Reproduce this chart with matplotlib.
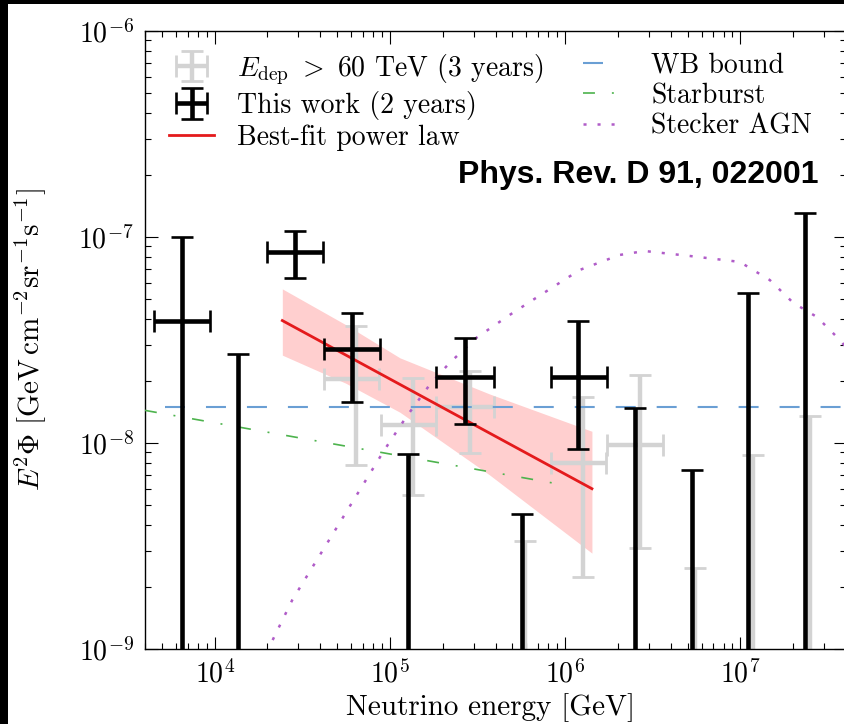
import numpy as np
import matplotlib
matplotlib.use("Agg")
import matplotlib.pyplot as plt
from matplotlib.patches import Rectangle
from matplotlib.legend_handler import HandlerErrorbar

plt.rcParams["font.family"] = "serif"
plt.rcParams["font.serif"] = ["cmr10", "DejaVu Serif"]
plt.rcParams["mathtext.fontset"] = "cm"
plt.rcParams["axes.formatter.use_mathtext"] = True
plt.rcParams["lines.scale_dashes"] = False

# black points: this work (2 years)
bk_x = [6.50e3, 2.86e4, 6.04e4, 2.69e5, 1.19e6]
bk_xlo = [4.50e3, 1.98e4, 4.18e4, 1.83e5, 8.24e5]
bk_xhi = [9.40e3, 4.16e4, 8.77e4, 3.91e5, 1.73e6]
bk_y = [3.9e-8, 8.5e-8, 2.85e-8, 2.1e-8, 2.1e-8]
bk_ylo = [1e-10, 6.3e-8, 1.58e-8, 1.24e-8, 9.4e-9]
bk_yhi = [1.0e-7, 1.07e-7, 4.3e-8, 3.25e-8, 3.93e-8]
# black upper limits
bk_ul_x = [1.36e4, 1.27e5, 5.67e5, 2.49e6, 5.27e6, 1.10e7, 2.33e7]
bk_ul = [2.7e-8, 8.8e-9, 4.5e-9, 1.48e-8, 7.4e-9, 5.35e-8, 1.31e-7]

# grey points: E_dep > 60 TeV (3 years)
gr_x = [6.4e4, 1.36e5, 2.88e5, 1.27e6, 2.66e6]
gr_xlo = [4.18e4, 8.9e4, 1.83e5, 8.24e5, 1.73e6]
gr_xhi = [8.7e4, 1.83e5, 3.91e5, 1.71e6, 3.61e6]
gr_y = [2.04e-8, 1.22e-8, 1.5e-8, 7.96e-9, 9.8e-9]
gr_ylo = [7.8e-9, 5.6e-9, 8.9e-9, 2.23e-9, 3.1e-9]
gr_yhi = [3.7e-8, 2.06e-8, 2.24e-8, 1.68e-8, 2.14e-8]
gr_ul_x = [5.93e5, 5.48e6, 1.18e7, 2.49e7]
gr_ul = [3.36e-9, 2.46e-9, 8.75e-9, 1.35e-8]

# best-fit power law and band
fit_x = [2.43e4, 1.42e6]
fit_y = [3.93e-8, 6.0e-9]
band_x = [2.43e4, 5.6e4, 1.14e5, 3.7e5, 1.42e6]
band_hi = [5.6e-8, 3.75e-8, 2.59e-8, 1.73e-8, 1.14e-8]
band_lo = [2.67e-8, 1.95e-8, 1.41e-8, 7.0e-9, 2.92e-9]

# models
wb_x = [5.2e3, 5e7]
wb_y = [1.5e-8, 1.5e-8]
sb_x = [4e3, 8.45e5]
sb_y = [1.44e-8, 6.4e-9]
st_x = [1.78e4, 2.02e4, 2.77e4, 9.29e4, 1.24e5, 1.68e5, 2.18e5, 3.11e5, 4.81e5,
        6.25e5, 1.21e6, 2.04e6, 2.84e6, 5.13e6, 9.91e6, 1.47e7, 2.0e7, 2.73e7,
        3.55e7, 4.47e7]
st_y = [7.1e-10, 1.0e-9, 1.73e-9, 9.25e-9, 1.34e-8, 1.91e-8, 2.44e-8, 3.24e-8,
        4.18e-8, 4.83e-8, 6.92e-8, 8.18e-8, 8.55e-8, 8.09e-8, 7.57e-8, 6.18e-8,
        4.79e-8, 4.09e-8, 3.27e-8, 2.63e-8]

fig = plt.figure(figsize=(8.44, 7.24), dpi=100)
ax = fig.add_axes([145 / 844, 75 / 724, 701 / 844, 618 / 724])
ax.set_xscale("log")
ax.set_yscale("log")
ax.set_xlim(4e3, 4e7)
ax.set_ylim(1e-9, 1e-6)

grey = "#d3d3d3"
ax.fill_between(band_x, band_lo, band_hi, color="#ffcfcf", lw=0, zorder=1)

gx = np.array(gr_x)
gy = np.array(gr_y)
eb_grey = ax.errorbar(gx, gy, xerr=[gx - gr_xlo, np.array(gr_xhi) - gx],
                      yerr=[gy - gr_ylo, np.array(gr_yhi) - gy], fmt="none",
                      ecolor=grey, elinewidth=3.2, capsize=8, capthick=2, zorder=2)
gux = np.array(gr_ul_x)
ax.errorbar(gux, np.full(len(gux), 1e-10), yerr=[np.zeros(len(gux)), np.array(gr_ul) - 1e-10],
            fmt="none", ecolor=grey, elinewidth=3.2, capsize=8, capthick=2, zorder=2)

wb, = ax.plot(wb_x, wb_y, color="#6a9fd4", lw=1.5, ls=(0, (14.4, 15.1)), zorder=3)
sb, = ax.plot(sb_x, sb_y, color="#4db34d", lw=1.2, ls=(0, (8.6, 12.2, 1.4, 12.2)), zorder=3)
st, = ax.plot(st_x, st_y, color="#b05cc8", lw=1.8, ls=(0, (2.2, 7.9)), zorder=3)
fit, = ax.plot(fit_x, fit_y, color="#e41a1c", lw=2.0, zorder=3.5)

bx = np.array(bk_x)
by = np.array(bk_y)
eb_black = ax.errorbar(bx, by, xerr=[bx - bk_xlo, np.array(bk_xhi) - bx],
                       yerr=[by - bk_ylo, np.array(bk_yhi) - by], fmt="none",
                       ecolor="k", elinewidth=3.3, capsize=8, capthick=1.9, zorder=4)
bux = np.array(bk_ul_x)
ax.errorbar(bux, np.full(len(bux), 1e-10), yerr=[np.zeros(len(bux)), np.array(bk_ul) - 1e-10],
            fmt="none", ecolor="k", elinewidth=3.3, capsize=8, capthick=1.9, zorder=4)

ax.tick_params(which="both", direction="in", top=True, right=True, labelsize=20)
ax.tick_params(which="major", length=9, width=0.8, pad=8)
ax.tick_params(which="minor", length=4.5, width=0.8)
for s in ax.spines.values():
    s.set_linewidth(1.0)

ax.set_xlabel("Neutrino energy [GeV]", fontsize=21)
ax.set_ylabel(r"$E^2\Phi\ [\mathrm{GeV\,cm^{-2}sr^{-1}s^{-1}}]$", fontsize=21)
ax.xaxis.set_label_coords((490 - 145) / 701, -(693 - 649) / 618)
ax.yaxis.set_label_coords((49 - 145) / 701, 0.5)

hm = {eb_grey: HandlerErrorbar(xerr_size=0.55), eb_black: HandlerErrorbar(xerr_size=0.55)}
leg1 = fig.legend([eb_grey, eb_black, fit],
                  [r"$E_{\rm dep}\ >\ 60$ TeV (3 years)", "This work (2 years)", "Best-fit power law"],
                  loc="upper left", bbox_to_anchor=(169 / 844, 1 - 52 / 724), frameon=False,
                  fontsize=20, handlelength=1.62, handletextpad=0.83, labelspacing=0.16,
                  borderpad=0, borderaxespad=0, handler_map=hm)
leg2 = fig.legend([wb, sb, st], ["WB bound", "Starburst", "Stecker AGN"],
                  loc="upper left", bbox_to_anchor=(583 / 844, 1 - 52 / 724), frameon=False,
                  fontsize=20, handlelength=1.15, handletextpad=1.3, labelspacing=0.16,
                  borderpad=0, borderaxespad=0)

fig.text(818 / 844, 1 - 183 / 724, "Phys. Rev. D 91, 022001", ha="right", va="baseline",
         fontsize=23, fontweight="bold", family="Liberation Sans")

# black border strips of the screenshot
fig.add_artist(Rectangle((0, 0), 8 / 844, 1, transform=fig.transFigure, color="k", lw=0))
fig.add_artist(Rectangle((0, 1 - 4 / 724), 1, 4 / 724, transform=fig.transFigure, color="k", lw=0))

fig.savefig("out.png", dpi=100)
